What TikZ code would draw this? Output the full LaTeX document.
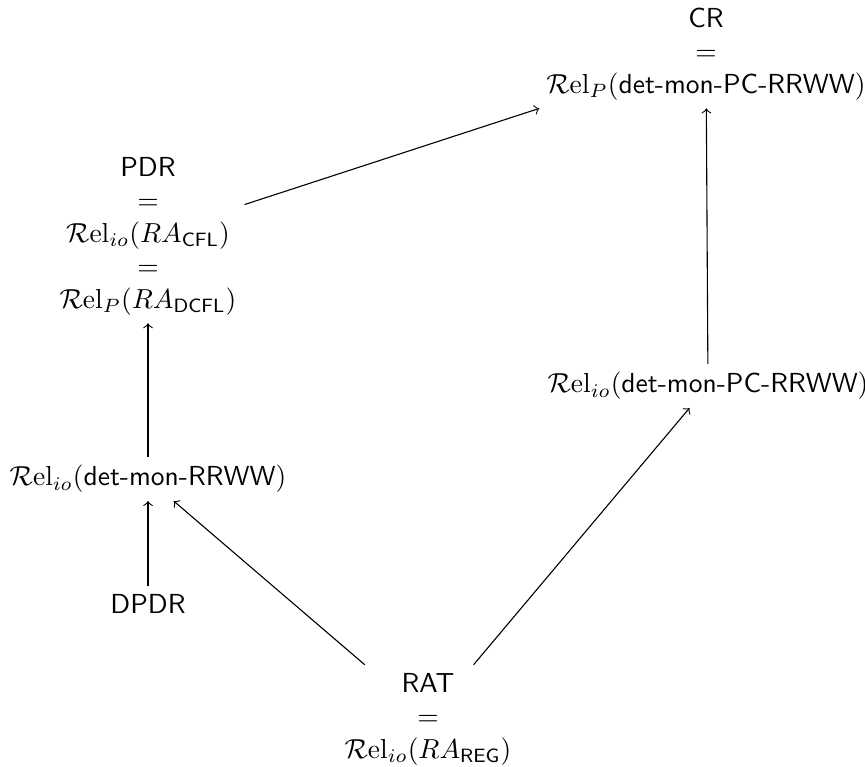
\documentclass[tikz,border=0pt]{standalone}
\newcommand{\RelOp}{\mathcal{R}\mathrm{el}}
\begin{document}
\begin{tikzpicture}[x=0.3636pt,y=-0.3636pt,
  cls/.style={align=center,font=\sffamily,inner sep=3pt,outer sep=0pt},
  arr/.style={->,line width=0.4pt}]
\useasboundingbox (0,0) rectangle (865,766);
% language classes
\node[cls] (cr)   at (706,54)  {CR\\$=$\\$\RelOp_P(\textsf{det-mon-PC-RRWW})$};
\node[cls] (pdr)  at (148,236) {PDR\\$=$\\$\RelOp_{io}(RA_{\mathsf{CFL}})$\\$=$\\$\RelOp_P(RA_{\mathsf{DCFL}})$};
\node[cls] (ml)   at (148,479) {$\RelOp_{io}(\textsf{det-mon-RRWW})$};
\node[cls] (dpdr) at (148,604) {DPDR};
\node[cls] (rat)  at (428,719) {RAT\\$=$\\$\RelOp_{io}(RA_{\mathsf{REG}})$};
\node[cls] (pc)   at (708,386) {$\RelOp_{io}(\textsf{det-mon-PC-RRWW})$};
% inclusions
\draw[arr] (pdr) -- (cr);
\draw[arr] (pc) -- (cr);
\draw[arr] (ml) -- (pdr);
\draw[arr] (dpdr) -- (ml);
\draw[arr] (rat) -- (ml);
\draw[arr] (rat) -- (pc);
\end{tikzpicture}
\end{document}
